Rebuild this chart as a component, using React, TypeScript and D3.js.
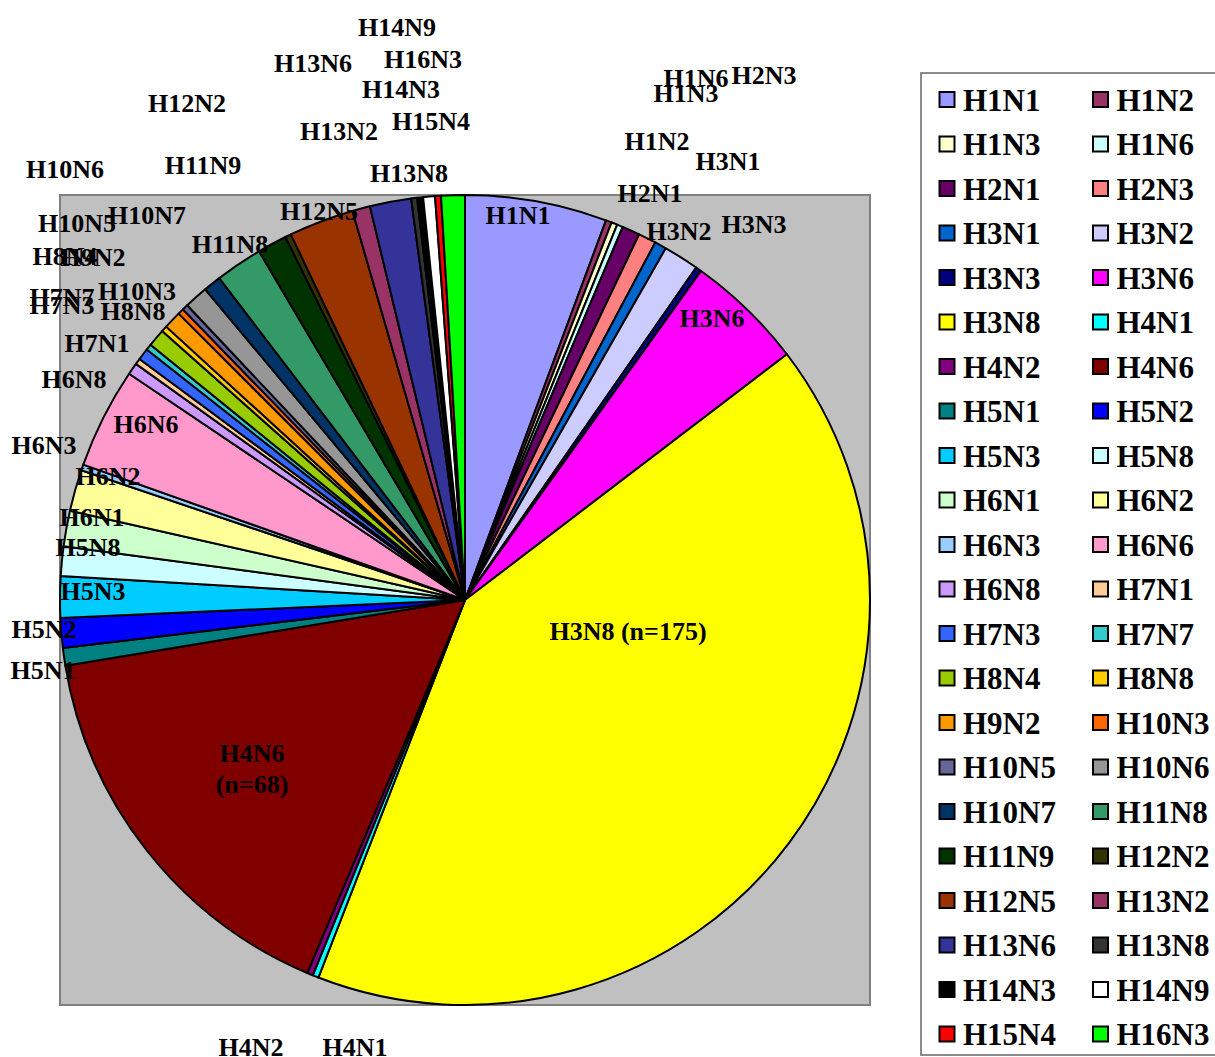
import React from "react";
import * as d3 from "d3";

// Avian influenza subtypes and isolate counts
const subtypes = [
  "H1N1", "H1N2", "H1N3", "H1N6", "H2N1", "H2N3", "H3N1", "H3N2", "H3N3", "H3N6",
  "H3N8", "H4N1", "H4N2", "H4N6", "H5N1", "H5N2", "H5N3", "H5N8", "H6N1", "H6N2",
  "H6N3", "H6N6", "H6N8", "H7N1", "H7N3", "H7N7", "H8N4", "H8N8", "H9N2", "H10N3",
  "H10N5", "H10N6", "H10N7", "H11N8", "H11N9", "H12N2", "H12N5", "H13N2", "H13N6", "H13N8",
  "H14N3", "H14N9", "H15N4", "H16N3",
];

const counts = [
  24, 1, 1, 1, 3, 3, 2, 6, 1, 20,
  175, 1, 1, 68, 3, 5, 7, 5, 6, 7,
  1, 17, 2, 1, 2, 1, 3, 1, 3, 1,
  1, 4, 3, 8, 5, 1, 11, 3, 7, 1,
  1, 2, 1, 4,
];

const fills = [
  "#9999FF", "#993366", "#FFFFCC", "#CCFFFF", "#660066", "#FF8080", "#0066CC", "#CCCCFF", "#000080", "#FF00FF",
  "#FFFF00", "#00FFFF", "#800080", "#800000", "#008080", "#0000FF", "#00CCFF", "#CCFFFF", "#CCFFCC", "#FFFF99",
  "#99CCFF", "#FF99CC", "#CC99FF", "#FFCC99", "#3366FF", "#33CCCC", "#99CC00", "#FFCC00", "#FF9900", "#FF6600",
  "#666699", "#969696", "#003366", "#339966", "#003300", "#333300", "#993300", "#993366", "#333399", "#333333",
  "#000000", "#FFFFFF", "#FF0000", "#00FF00",
];

// Hand-placed data-label anchors (text centre), as laid out in the chart
const labelLayout: [string, number, number][] = [
  ["H1N1", 518, 215], ["H1N2", 657, 141], ["H1N3", 686, 93], ["H1N6", 696, 78],
  ["H2N1", 650, 193], ["H2N3", 764, 75], ["H3N1", 728, 161], ["H3N2", 679, 231],
  ["H3N3", 754, 224], ["H3N6", 712, 318], ["H4N1", 355, 1047], ["H4N2", 251, 1047],
  ["H5N1", 43, 670], ["H5N2", 44, 629], ["H5N3", 93, 591], ["H5N8", 88, 547],
  ["H6N1", 92, 517], ["H6N2", 108, 476], ["H6N3", 44, 445], ["H6N6", 146, 424],
  ["H6N8", 74, 379], ["H7N1", 97, 343], ["H7N3", 62, 305], ["H7N7", 62, 297],
  ["H8N4", 65, 256], ["H8N8", 133, 311], ["H9N2", 93, 257], ["H10N3", 137, 291],
  ["H10N5", 77, 223], ["H10N6", 65, 169], ["H10N7", 147, 215], ["H11N8", 230, 244],
  ["H11N9", 203, 165], ["H12N2", 187, 103], ["H12N5", 319, 211], ["H13N2", 339, 131],
  ["H13N6", 313, 63], ["H13N8", 409, 173], ["H14N3", 401, 89], ["H14N9", 397, 27],
  ["H15N4", 431, 121], ["H16N3", 423, 59],
];

const WIDTH = 1215;
const HEIGHT = 1057;
const plot = { x: 60, y: 195, size: 810 };
const legendBox = { x: 921, y: 73, w: 300, h: 982 };
const FONT = "'Liberation Serif', 'Times New Roman', serif";

type Slice = { name: string; value: number; fill: string };

export default function App() {
  const data: Slice[] = subtypes.map((name, i) => ({ name, value: counts[i], fill: fills[i] }));
  const radius = plot.size / 2;
  const cx = plot.x + radius;
  const cy = plot.y + radius;

  const pie = d3.pie<Slice>().sort(null).value((d) => d.value).startAngle(0).endAngle(2 * Math.PI);
  const arcs = pie(data);
  const arc = d3.arc<d3.PieArcDatum<Slice>>().innerRadius(0).outerRadius(radius);

  const valueOf = (name: string) => counts[subtypes.indexOf(name)];

  // Legend: two columns, row-major
  const rows = Math.ceil(subtypes.length / 2);
  const rowY = d3.scaleLinear().domain([0, rows - 1]).range([99.5, 1034]);
  const colX = [947, 1100.5];

  return (
    <svg
      width={WIDTH}
      height={HEIGHT}
      style={{ position: "absolute", left: 0, top: 0, background: "#fff" }}
      fontFamily={FONT}
      fontWeight="bold"
    >
      <rect x={plot.x} y={plot.y} width={plot.size} height={plot.size} fill="#C0C0C0" stroke="#808080" strokeWidth={2} />
      <g transform={`translate(${cx},${cy})`}>
        {arcs.map((a) => (
          <path key={a.data.name} d={arc(a) || ""} fill={a.data.fill} stroke="#000" strokeWidth={2} strokeLinejoin="round" />
        ))}
      </g>

      {labelLayout.map(([name, x, y]) => (
        <text key={name} x={x} y={y + 8.5} textAnchor="middle" fontSize={26} fill="#000">
          {name}
        </text>
      ))}
      <text x={628} y={631 + 8.5} textAnchor="middle" fontSize={26} fill="#000">
        {`H3N8 (n=${valueOf("H3N8")})`}
      </text>
      <text x={252} y={753 + 8.5} textAnchor="middle" fontSize={26} fill="#000">H4N6</text>
      <text x={252} y={784 + 8.5} textAnchor="middle" fontSize={26} fill="#000">
        {`(n=${valueOf("H4N6")})`}
      </text>

      <rect x={legendBox.x} y={legendBox.y} width={legendBox.w} height={legendBox.h} fill="#fff" stroke="#666" strokeWidth={1.5} />
      {data.map((d, i) => {
        const x = colX[i % 2];
        const y = rowY(Math.floor(i / 2));
        return (
          <g key={d.name}>
            <rect x={x - 7.5} y={y - 7.5} width={15} height={15} fill={d.fill} stroke="#000" strokeWidth={2} />
            <text x={x + 16} y={y + 11} fontSize={31} fill="#000">
              {d.name}
            </text>
          </g>
        );
      })}
    </svg>
  );
}
